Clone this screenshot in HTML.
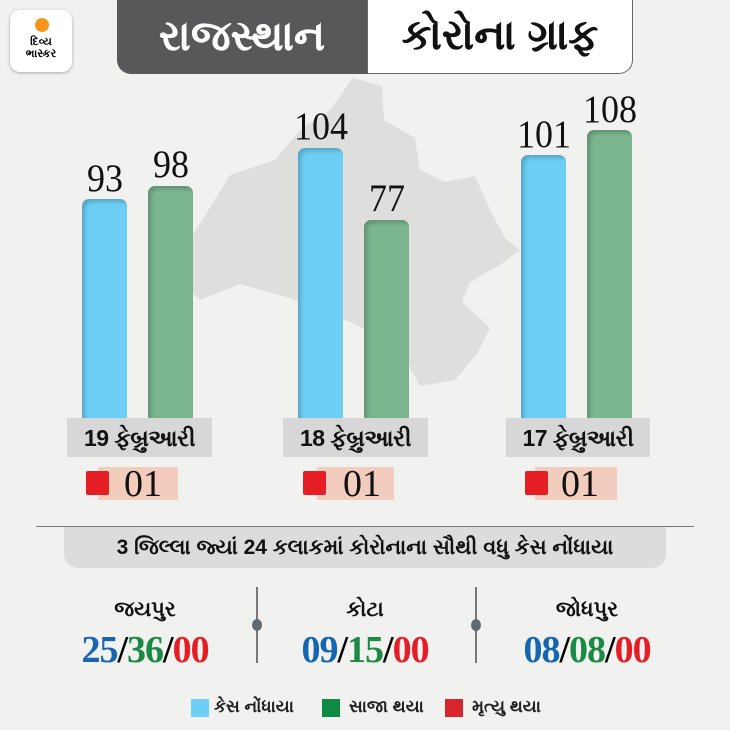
<!DOCTYPE html>
<html><head><meta charset="utf-8">
<style>
body{margin:0;width:730px;height:730px;background:#f1f1ef;position:relative;overflow:hidden;font-family:"Liberation Sans",sans-serif}
.a{position:absolute}
.bar{position:absolute;width:45px;border-radius:7px 7px 0 0;box-shadow:inset 3px 3px 4px rgba(0,0,0,.2)}
.b{background:#6dcff5}.g{background:#7bb68f}
.v{position:absolute;width:80px;text-align:center;font-family:"Liberation Serif",serif;font-size:36px;color:#111;transform:scaleY(1.1)}
.d{position:absolute;top:418px;height:39px;background:#d7d7d7;font-size:23px;font-weight:bold;line-height:40px;text-align:center;color:#111;letter-spacing:-0.5px}
.p{position:absolute;top:467px;height:33px;background:#f2cdbd;font-family:"Liberation Serif",serif;font-size:38px;line-height:34px;padding-left:26px;box-sizing:border-box;color:#111}
.r{position:absolute;top:471px;width:23px;height:24px;background:#e51e25;border-radius:2px}
.c{position:absolute;width:200px;text-align:center;font-weight:bold;font-size:21px;color:#111}
.n{position:absolute;width:200px;text-align:center;font-family:"Liberation Serif",serif;font-weight:bold;font-size:38px;letter-spacing:-1px}
.bl{color:#1565b0}.gr{color:#1a8a45}.rd{color:#e41e26}
.sep{position:absolute;width:2px;top:587px;height:76px;background:#777}
.dot{position:absolute;width:10px;height:12px;border-radius:50%;background:#5e6b75;top:619px}
.lg{position:absolute;top:699px;width:18px;height:18px}
.lt{position:absolute;top:697px;font-size:17px;font-weight:bold;color:#222}
</style></head><body>
<svg class="a" style="left:0;top:0" width="730" height="730">
<polygon fill="#dededd" points="353,78 382,86 384,120 415,138 420,170 445,182 475,176 490,210 505,238 520,250 500,265 470,282 462,302 490,328 478,352 455,380 420,386 398,345 350,322 290,298 240,284 200,300 180,280 190,240 230,175 275,160 300,130 330,110"/>
</svg>
<div class="a" style="left:10px;top:10px;width:62px;height:62px;background:#fff;border-radius:10px;box-shadow:0 1px 3px rgba(0,0,0,.3)"></div>
<div class="a" style="left:35px;top:18px;width:14px;height:14px;border-radius:50%;background:#f7941d"></div>
<div class="a" style="left:12px;top:36px;width:58px;text-align:center;font-size:11px;font-weight:bold;line-height:12px">દિવ્ય<br>ભાસ્કર</div>
<div class="a" style="left:117px;top:0;width:250px;height:74px;background:#58585a;border-radius:0 0 0 14px;color:#fff;font-size:42px;font-weight:bold;text-align:center;line-height:72px">રાજસ્થાન</div>
<div class="a" style="left:367px;top:-1px;width:264px;height:74px;background:#fff;border:1px solid #666;border-top:none;border-radius:0 0 14px 0;color:#111;font-size:42px;font-weight:bold;text-align:center;line-height:72px">કોરોના ગ્રાફ</div>

<div class="bar b" style="left:82px;top:199px;height:219px"></div>
<div class="bar g" style="left:148px;top:186px;height:232px"></div>
<div class="bar b" style="left:298px;top:148px;height:270px"></div>
<div class="bar g" style="left:364px;top:220px;height:198px"></div>
<div class="bar b" style="left:521px;top:155px;height:263px"></div>
<div class="bar g" style="left:587px;top:130px;height:288px"></div>
<div class="v" style="left:65px;top:157px">93</div>
<div class="v" style="left:131px;top:143px">98</div>
<div class="v" style="left:281px;top:105px">104</div>
<div class="v" style="left:347px;top:177px">77</div>
<div class="v" style="left:504px;top:113px">101</div>
<div class="v" style="left:570px;top:88px">108</div>

<div class="d" style="left:67px;width:145px">19 ફેબ્રુઆરી</div>
<div class="d" style="left:283px;width:145px">18 ફેબ્રુઆરી</div>
<div class="d" style="left:506px;width:144px">17 ફેબ્રુઆરી</div>
<div class="p" style="left:98px;width:80px">01</div><div class="r" style="left:86px"></div>
<div class="p" style="left:317px;width:77px">01</div><div class="r" style="left:303px"></div>
<div class="p" style="left:535px;width:82px">01</div><div class="r" style="left:525px"></div>

<div class="a" style="left:36px;top:526px;width:658px;height:1px;background:#777"></div>
<div class="a" style="left:64px;top:527px;width:602px;height:41px;background:#dcdcdc;border-radius:0 0 14px 14px;text-align:center;font-size:21px;font-weight:bold;line-height:42px;color:#111">3 જિલ્લા જ્યાં 24 કલાકમાં કોરોનાના સૌથી વધુ કેસ નોંધાયા</div>

<div class="c" style="left:45px;top:598px">જયપુર</div>
<div class="c" style="left:265px;top:598px">કોટા</div>
<div class="c" style="left:487px;top:598px">જોધપુર</div>
<div class="n" style="left:45px;top:628px"><span class="bl">25</span>/<span class="gr">36</span>/<span class="rd">00</span></div>
<div class="n" style="left:265px;top:628px"><span class="bl">09</span>/<span class="gr">15</span>/<span class="rd">00</span></div>
<div class="n" style="left:487px;top:628px"><span class="bl">08</span>/<span class="gr">08</span>/<span class="rd">00</span></div>
<div class="sep" style="left:256px"></div><div class="dot" style="left:252px"></div>
<div class="sep" style="left:475px"></div><div class="dot" style="left:471px"></div>

<div class="lg" style="left:191px;background:#6dcff5"></div><div class="lt" style="left:214px">કેસ નોંધાયા</div>
<div class="lg" style="left:322px;background:#0f8a45"></div><div class="lt" style="left:349px">સાજા થયા</div>
<div class="lg" style="left:445px;background:#d7262b"></div><div class="lt" style="left:472px">મૃત્યુ થયા</div>
</body></html>
